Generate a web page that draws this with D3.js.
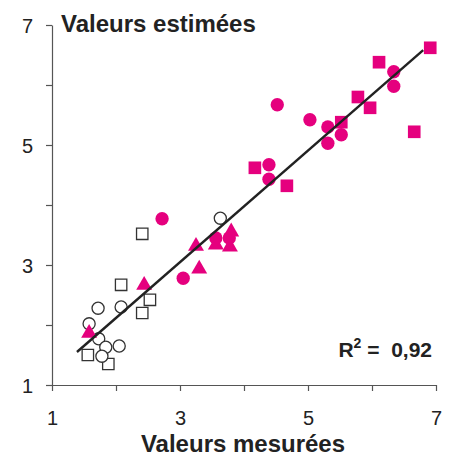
<!DOCTYPE html>
<html>
<head>
<meta charset="utf-8">
<script src="https://cdn.jsdelivr.net/npm/d3@7"></script>
<style>
  body { margin: 0; background: #fff; }
  text { font-family: "Liberation Sans", Arial, sans-serif; fill: #222; }
</style>
</head>
<body>
<script>
// data [mesurée, estimée]
const openSquares = [[2.41, 3.52], [2.08, 2.67], [2.53, 2.42], [2.41, 2.20], [1.56, 1.50], [1.88, 1.35]];
const openCircles = [[3.63, 3.78], [1.72, 2.28], [2.08, 2.30], [1.58, 2.02], [1.73, 1.77], [1.84, 1.63], [2.05, 1.65], [1.78, 1.48]];
const pinkTriangles = [[1.58, 1.88], [2.44, 2.68], [3.25, 3.33], [3.30, 2.95], [3.56, 3.35], [3.80, 3.57], [3.78, 3.32]];
const pinkCircles = [[2.72, 3.77], [3.05, 2.78], [4.52, 5.67], [5.03, 5.42], [5.31, 5.30], [5.52, 5.17], [5.31, 5.03],
  [4.39, 4.67], [4.39, 4.43], [6.34, 6.22], [6.34, 5.98], [3.56, 3.45], [3.77, 3.45]];
const pinkSquares = [[4.17, 4.62], [4.67, 4.32], [5.52, 5.38], [5.78, 5.80], [5.97, 5.62], [6.11, 6.38], [6.91, 6.62], [6.66, 5.22]];
const fitLine = [[1.39, 1.55], [6.80, 6.58]];
const ticks = [1, 2, 3, 4, 5, 6, 7];
const r2Label = "0,92";

const W = 451, H = 456;
const margin = { left: 52, right: 15, top: 25, bottom: 71 };
const width = W - margin.left - margin.right;
const height = H - margin.top - margin.bottom;
const pink = "#e5007e";

const svg = d3.select("body").append("svg")
  .attr("width", W)
  .attr("height", H);

const g = svg.append("g")
  .attr("transform", `translate(${margin.left}, ${margin.top})`);

const x = d3.scaleLinear().domain([1, 7]).range([0, width]);
const y = d3.scaleLinear().domain([1, 7]).range([height, 0]);

const fmt = d => (d % 2 === 1 ? d : "");

const xAxis = g.append("g")
  .attr("transform", `translate(0, ${height})`)
  .call(d3.axisBottom(x).tickValues(ticks).tickFormat(fmt).tickSize(6).tickSizeOuter(0).tickPadding(20));
const yAxis = g.append("g")
  .call(d3.axisLeft(y).tickValues(ticks).tickFormat(fmt).tickSize(6).tickSizeOuter(0).tickPadding(13));

[xAxis, yAxis].forEach(a => {
  a.select(".domain").attr("stroke", "#555").attr("stroke-width", 1.2);
  a.selectAll(".tick line").attr("stroke", "#555").attr("stroke-width", 1.2);
  a.selectAll(".tick text").style("font-size", "20px").attr("fill", "#222")
    .style("font-family", "'Liberation Sans', Arial, sans-serif");
});
yAxis.selectAll(".tick text").attr("dy", "0.36em");

// points
function drawSeries(data, type, size, fill, stroke, dy) {
  g.append("g").selectAll("path")
    .data(data)
    .enter()
    .append("path")
    .attr("d", d3.symbol().type(type).size(size))
    .attr("transform", d => `translate(${x(d[0])}, ${y(d[1]) + (dy || 0)})`)
    .attr("fill", fill)
    .attr("stroke", stroke)
    .attr("stroke-width", 1.3);
}

drawSeries(openSquares, d3.symbolSquare, 130, "#fff", "#333");
drawSeries(openCircles, d3.symbolCircle, 115, "#fff", "#333");
drawSeries(pinkTriangles, d3.symbolTriangle, 110, pink, "none", 1);
drawSeries(pinkCircles, d3.symbolCircle, 140, pink, "none");
drawSeries(pinkSquares, d3.symbolSquare, 160, pink, "none");

// droite de régression
g.append("path")
  .datum(fitLine)
  .attr("d", d3.line().x(d => x(d[0])).y(d => y(d[1])))
  .attr("stroke", "#222")
  .attr("stroke-width", 2.4)
  .attr("fill", "none");

// titres
svg.append("text")
  .attr("x", 61).attr("y", 32)
  .style("font-size", "24px").style("font-weight", "bold")
  .text("Valeurs estimées");

svg.append("text")
  .attr("x", margin.left + width / 2 - 1).attr("y", 452)
  .attr("text-anchor", "middle")
  .style("font-size", "24px").style("font-weight", "bold")
  .text("Valeurs mesurées");

const r2 = svg.append("text")
  .attr("x", 432).attr("y", 357)
  .attr("text-anchor", "end")
  .style("white-space", "pre")
  .style("font-size", "21px").style("font-weight", "bold");
r2.append("tspan").text("R");
r2.append("tspan").attr("dy", -9).style("font-size", "14px").text("2");
r2.append("tspan").attr("dy", 9).text(" =  " + r2Label);
</script>
</body>
</html>
